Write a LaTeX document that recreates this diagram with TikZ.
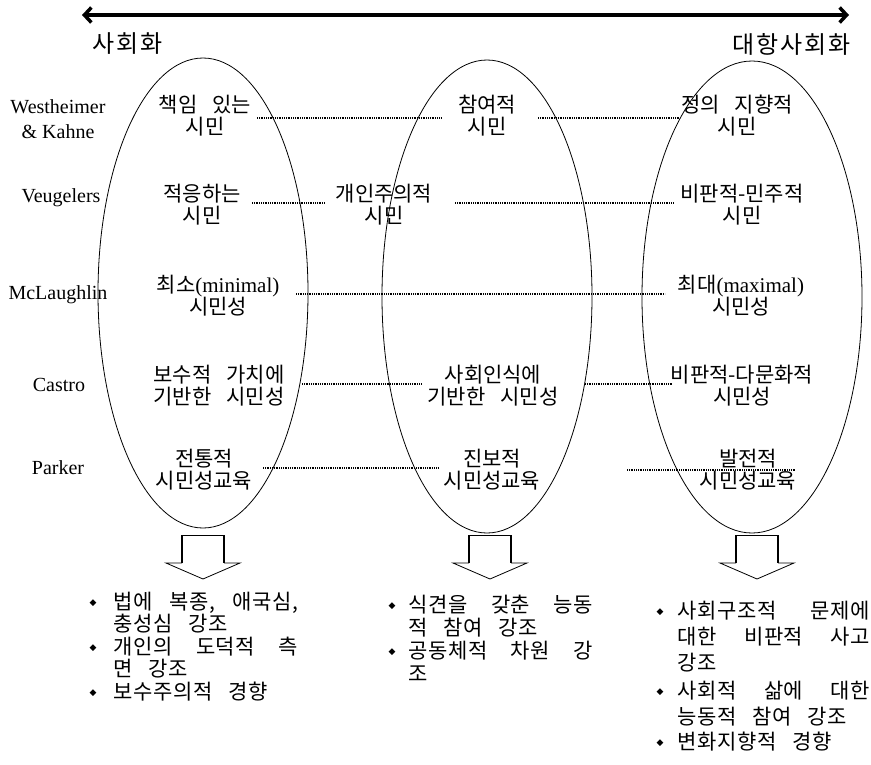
\documentclass[tikz,border=0pt]{standalone}
\usepackage{fontspec}
\setmainfont{Liberation Serif}
\newfontfamily\kr[WordSpace=3.2]{Noto Sans CJK KR}
\newfontfamily\krl[LetterSpace=3,WordSpace=3]{Noto Sans CJK KR}
\newfontfamily\krh[LetterSpace=8]{Noto Sans CJK KR}
\newfontfamily\symf{DejaVu Sans}
\usetikzlibrary{arrows.meta,shapes.geometric}
\begin{document}
\begin{tikzpicture}[x=1pt,y=-1pt,
  lbl/.style={align=center,font=\kr\fontsize{21}{22}\selectfont,inner sep=0pt},
  auth/.style={align=center,font=\fontsize{20}{25}\selectfont,inner sep=0pt},
  hd/.style={font=\krh\fontsize{24}{26}\selectfont,inner sep=0pt},
  ell/.style={draw,ellipse,line width=0.8pt,inner sep=0pt},
  dotline/.style={line width=1.3pt,dash pattern=on 0.9pt off 0.9pt},
  listline/.style={anchor=west,inner sep=0pt,font=\krl\fontsize{21}{22}\selectfont,text height=15pt,text depth=3pt},
  bul/.style={inner sep=0pt,font=\symf\fontsize{9}{10}\selectfont},
  shaft/.style={line width=2.4pt},
  thin/.style={line width=0.8pt}]
\useasboundingbox (0,0) rectangle (871,764);

% top double arrow
\coordinate (aL) at (82,15);
\coordinate (aR) at (849,15);
\draw[line width=3.5pt,{Straight Barb[length=7pt,width=15pt]}-{Straight Barb[length=7pt,width=15pt]}] (aL) -- (aR);
\node[hd] (hL) at (128,44) {사회화};
\node[hd] (hR) at (792,44) {대항사회화};

% ellipses
\node[ell,minimum width=210pt,minimum height=470pt] (E1) at (203,293) {};
\node[ell,minimum width=210pt,minimum height=473pt] (E2) at (487,296.5) {};
\node[ell,minimum width=220pt,minimum height=472pt] (E3) at (752,297) {};

% author labels
\node[auth] (aW) at (58,119) {Westheimer\\\& Kahne};
\node[auth] (aV) at (61,198) {Veugelers};
\node[auth] (aM) at (58,295) {McLaughlin};
\node[auth] (aC) at (59,385) {Castro};
\node[auth] (aP) at (58,468) {Parker};

% left column
\node[lbl] (L1) at (205,116) {책임 있는\\시민};
\node[lbl] (L2) at (202,205) {적응하는\\시민};
\node[lbl] (L3) at (218,296) {최소{\rmfamily\fontsize{21}{22}\selectfont(minimal)}\\시민성};
\node[lbl] (L4) at (219,386) {보수적 가치에\\기반한 시민성};
\node[lbl] (L5) at (204,470) {전통적\\시민성교육};
% middle column
\node[lbl] (M1) at (487,116) {참여적\\시민};
\node[lbl] (M2) at (384,205) {개인주의적\\시민};
\node[lbl] (M4) at (493,386) {사회인식에\\기반한 시민성};
\node[lbl] (M5) at (492,470) {진보적\\시민성교육};
% right column
\node[lbl] (R1) at (737,116) {정의 지향적\\시민};
\node[lbl] (R2) at (742,205) {비판적-민주적\\시민};
\node[lbl] (R3) at (741,296) {최대{\rmfamily\fontsize{21}{22}\selectfont(maximal)}\\시민성};
\node[lbl] (R4) at (742,386) {비판적-다문화적\\시민성};
\node[lbl] (R5) at (748,470) {발전적\\시민성교육};

% dotted connectors
\coordinate (d1a) at (257,118); \coordinate (d1b) at (442,118);
\coordinate (d1c) at (538,118); \coordinate (d1d) at (680,118);
\coordinate (d2a) at (252,203); \coordinate (d2b) at (325,203);
\coordinate (d2c) at (455,203); \coordinate (d2d) at (673,203);
\coordinate (d3a) at (296,294); \coordinate (d3b) at (665,294);
\coordinate (d4a) at (302,384); \coordinate (d4b) at (421,384);
\coordinate (d4c) at (585,384); \coordinate (d4d) at (673,384);
\coordinate (d5a) at (263,468); \coordinate (d5b) at (438,468);
\coordinate (d5c) at (627,470); \coordinate (d5d) at (795,470);
\draw[dotline] (d1a) -- (d1b);
\draw[dotline] (d1c) -- (d1d);
\draw[dotline] (d2a) -- (d2b);
\draw[dotline] (d2c) -- (d2d);
\draw[dotline] (d3a) -- (d3b);
\draw[dotline] (d4a) -- (d4b);
\draw[dotline] (d4c) -- (d4d);
\draw[dotline] (d5a) -- (d5b);
\draw[dotline] (d5c) -- (d5d);

% block arrows
\foreach \cx in {203,490,757}{
  \draw[shaft] ({\cx-21},535) -- ({\cx-21},563);
  \draw[shaft] ({\cx+21},535) -- ({\cx+21},563);
  \draw[thin] ({\cx-21},535) -- ({\cx+21},535);
  \draw[thin,line join=miter] ({\cx-21},563) -- ({\cx-37},563) -- (\cx,579) -- ({\cx+37},563) -- ({\cx+21},563);
}

% left list
\node[bul] (b11) at (93,603) {◆};
\node[listline] (t11) at (113,603) {\makebox[185pt][s]{법에 복종, 애국심,}};
\node[listline] (t12) at (113,625.5) {충성심 강조};
\node[bul] (b12) at (93,648) {◆};
\node[listline] (t13) at (113,648) {\makebox[185pt][s]{개인의 도덕적 측}};
\node[listline] (t14) at (113,670.5) {면 강조};
\node[bul] (b13) at (93,693) {◆};
\node[listline] (t15) at (113,693) {보수주의적 경향};

% middle list
\node[bul] (b21) at (392,606) {◆};
\node[listline] (t21) at (408,606) {\makebox[185pt][s]{식견을 갖춘 능동}};
\node[listline] (t22) at (408,629) {적 참여 강조};
\node[bul] (b22) at (392,652) {◆};
\node[listline] (t23) at (408,652) {\makebox[185pt][s]{공동체적 차원 강}};
\node[listline] (t24) at (408,675) {조};

% right list
\node[bul] (b31) at (660,612) {◆};
\node[listline] (t31) at (677,612) {\makebox[193pt][s]{사회구조적 문제에}};
\node[listline] (t32) at (677,638) {\makebox[193pt][s]{대한 비판적 사고}};
\node[listline] (t33) at (677,664) {강조};
\node[bul] (b32) at (660,692) {◆};
\node[listline] (t34) at (677,692) {\makebox[193pt][s]{사회적 삶에 대한}};
\node[listline] (t35) at (677,718) {능동적 참여 강조};
\node[bul] (b33) at (660,743) {◆};
\node[listline] (t36) at (677,743) {변화지향적 경향};
\end{tikzpicture}
\end{document}
